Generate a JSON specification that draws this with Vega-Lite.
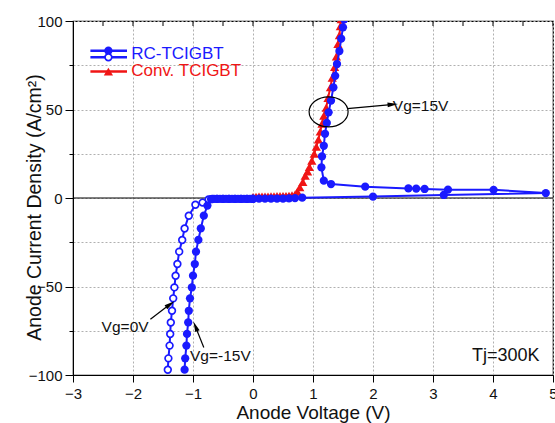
{
  "$schema": "https://vega.github.io/schema/vega-lite/v6.json",
  "width": 480,
  "height": 354,
  "autosize": {"type": "none"},
  "padding": {"left": 73, "top": 21, "right": 2, "bottom": 48},
  "background": "white",
  "config": {
    "font": "Liberation Sans",
    "view": {"stroke": "black", "strokeWidth": 1.2},
    "axis": {"labelFont": "Liberation Sans", "titleFont": "Liberation Sans", "labelColor": "#111", "titleColor": "#111", "domainColor": "black", "tickColor": "black", "titleFontWeight": "normal"}
  },
  "datasets": {
    "curves": [
      {"series": "conv", "ord": 1, "x": 0.0, "y": 0.6},
      {"series": "conv", "ord": 2, "x": 0.05, "y": 0.7},
      {"series": "conv", "ord": 3, "x": 0.1, "y": 0.8},
      {"series": "conv", "ord": 4, "x": 0.15, "y": 0.8},
      {"series": "conv", "ord": 5, "x": 0.2, "y": 0.9},
      {"series": "conv", "ord": 6, "x": 0.25, "y": 0.9},
      {"series": "conv", "ord": 7, "x": 0.3, "y": 1.0},
      {"series": "conv", "ord": 8, "x": 0.35, "y": 1.0},
      {"series": "conv", "ord": 9, "x": 0.4, "y": 1.1},
      {"series": "conv", "ord": 10, "x": 0.45, "y": 1.1},
      {"series": "conv", "ord": 11, "x": 0.5, "y": 1.2},
      {"series": "conv", "ord": 12, "x": 0.55, "y": 1.2},
      {"series": "conv", "ord": 13, "x": 0.6, "y": 1.3},
      {"series": "conv", "ord": 14, "x": 0.65, "y": 1.5},
      {"series": "conv", "ord": 15, "x": 0.7, "y": 2.0},
      {"series": "conv", "ord": 16, "x": 0.74, "y": 3.5},
      {"series": "conv", "ord": 17, "x": 0.78, "y": 6.0},
      {"series": "conv", "ord": 18, "x": 0.83, "y": 9.0},
      {"series": "conv", "ord": 19, "x": 0.87, "y": 12.5},
      {"series": "conv", "ord": 20, "x": 0.91, "y": 15.0},
      {"series": "conv", "ord": 21, "x": 0.94, "y": 17.5},
      {"series": "conv", "ord": 22, "x": 0.98, "y": 21.0},
      {"series": "conv", "ord": 23, "x": 1.02, "y": 25.0},
      {"series": "conv", "ord": 24, "x": 1.055, "y": 29.0},
      {"series": "conv", "ord": 25, "x": 1.09, "y": 33.0},
      {"series": "conv", "ord": 26, "x": 1.12, "y": 37.5},
      {"series": "conv", "ord": 27, "x": 1.15, "y": 42.0},
      {"series": "conv", "ord": 28, "x": 1.18, "y": 46.5},
      {"series": "conv", "ord": 29, "x": 1.22, "y": 51.0},
      {"series": "conv", "ord": 30, "x": 1.25, "y": 56.5},
      {"series": "conv", "ord": 31, "x": 1.29, "y": 62.5},
      {"series": "conv", "ord": 32, "x": 1.32, "y": 68.0},
      {"series": "conv", "ord": 33, "x": 1.36, "y": 74.0},
      {"series": "conv", "ord": 34, "x": 1.39, "y": 80.0},
      {"series": "conv", "ord": 35, "x": 1.415, "y": 87.0},
      {"series": "conv", "ord": 36, "x": 1.44, "y": 92.0},
      {"series": "conv", "ord": 37, "x": 1.455, "y": 97.0},
      {"series": "conv", "ord": 38, "x": 1.47, "y": 101.0},

      {"series": "fwd", "ord": 1, "x": 0.0, "y": -0.4},
      {"series": "fwd", "ord": 2, "x": 0.1, "y": -0.4},
      {"series": "fwd", "ord": 3, "x": 0.2, "y": -0.4},
      {"series": "fwd", "ord": 4, "x": 0.3, "y": -0.3},
      {"series": "fwd", "ord": 5, "x": 0.4, "y": -0.3},
      {"series": "fwd", "ord": 6, "x": 0.5, "y": -0.3},
      {"series": "fwd", "ord": 7, "x": 0.6, "y": -0.2},
      {"series": "fwd", "ord": 8, "x": 0.7, "y": -0.1},
      {"series": "fwd", "ord": 9, "x": 0.82, "y": 0.2},
      {"series": "fwd", "ord": 10, "x": 2.0, "y": 0.8},
      {"series": "fwd", "ord": 11, "x": 3.18, "y": 1.7},
      {"series": "fwd", "ord": 12, "x": 4.88, "y": 2.8},
      {"series": "fwd", "ord": 13, "x": 4.01, "y": 4.6},
      {"series": "fwd", "ord": 14, "x": 3.25, "y": 4.7},
      {"series": "fwd", "ord": 15, "x": 2.86, "y": 5.1},
      {"series": "fwd", "ord": 16, "x": 2.72, "y": 5.3},
      {"series": "fwd", "ord": 17, "x": 2.59, "y": 5.4},
      {"series": "fwd", "ord": 18, "x": 1.87, "y": 6.4},
      {"series": "fwd", "ord": 19, "x": 1.3, "y": 7.9},
      {"series": "fwd", "ord": 20, "x": 1.18, "y": 9.8},
      {"series": "fwd", "ord": 21, "x": 1.14, "y": 17.3},
      {"series": "fwd", "ord": 22, "x": 1.15, "y": 23.5},
      {"series": "fwd", "ord": 23, "x": 1.18, "y": 29.5},
      {"series": "fwd", "ord": 24, "x": 1.2, "y": 36.3},
      {"series": "fwd", "ord": 25, "x": 1.23, "y": 42.4},
      {"series": "fwd", "ord": 26, "x": 1.26, "y": 48.4},
      {"series": "fwd", "ord": 27, "x": 1.3, "y": 55.0},
      {"series": "fwd", "ord": 28, "x": 1.34, "y": 62.5},
      {"series": "fwd", "ord": 29, "x": 1.37, "y": 69.0},
      {"series": "fwd", "ord": 30, "x": 1.4, "y": 75.7},
      {"series": "fwd", "ord": 31, "x": 1.44, "y": 83.0},
      {"series": "fwd", "ord": 32, "x": 1.47, "y": 90.0},
      {"series": "fwd", "ord": 33, "x": 1.5, "y": 96.4},
      {"series": "fwd", "ord": 34, "x": 1.52, "y": 101.0},

      {"series": "rev0", "ord": 1, "x": 0.0, "y": -0.5},
      {"series": "rev0", "ord": 2, "x": -0.1, "y": -0.5},
      {"series": "rev0", "ord": 3, "x": -0.2, "y": -0.5},
      {"series": "rev0", "ord": 4, "x": -0.3, "y": -0.5},
      {"series": "rev0", "ord": 5, "x": -0.4, "y": -0.5},
      {"series": "rev0", "ord": 6, "x": -0.5, "y": -0.5},
      {"series": "rev0", "ord": 7, "x": -0.6, "y": -0.5},
      {"series": "rev0", "ord": 8, "x": -0.68, "y": -0.6},
      {"series": "rev0", "ord": 9, "x": -0.74, "y": -0.8},
      {"series": "rev0", "ord": 10, "x": -0.84, "y": -2.6},
      {"series": "rev0", "ord": 11, "x": -0.96, "y": -3.8},
      {"series": "rev0", "ord": 12, "x": -1.07, "y": -10.0},
      {"series": "rev0", "ord": 13, "x": -1.14, "y": -17.2},
      {"series": "rev0", "ord": 14, "x": -1.18, "y": -23.7},
      {"series": "rev0", "ord": 15, "x": -1.23, "y": -30.3},
      {"series": "rev0", "ord": 16, "x": -1.26, "y": -37.3},
      {"series": "rev0", "ord": 17, "x": -1.29, "y": -43.9},
      {"series": "rev0", "ord": 18, "x": -1.31, "y": -50.5},
      {"series": "rev0", "ord": 19, "x": -1.33, "y": -56.7},
      {"series": "rev0", "ord": 20, "x": -1.35, "y": -63.7},
      {"series": "rev0", "ord": 21, "x": -1.37, "y": -70.3},
      {"series": "rev0", "ord": 22, "x": -1.38, "y": -76.8},
      {"series": "rev0", "ord": 23, "x": -1.39, "y": -83.4},
      {"series": "rev0", "ord": 24, "x": -1.41, "y": -90.6},
      {"series": "rev0", "ord": 25, "x": -1.42, "y": -97.0},

      {"series": "rev15", "ord": 1, "x": 0.0, "y": -0.5},
      {"series": "rev15", "ord": 2, "x": -0.05, "y": -0.5},
      {"series": "rev15", "ord": 3, "x": -0.1, "y": -0.5},
      {"series": "rev15", "ord": 4, "x": -0.15, "y": -0.5},
      {"series": "rev15", "ord": 5, "x": -0.2, "y": -0.5},
      {"series": "rev15", "ord": 6, "x": -0.25, "y": -0.5},
      {"series": "rev15", "ord": 7, "x": -0.3, "y": -0.5},
      {"series": "rev15", "ord": 8, "x": -0.35, "y": -0.5},
      {"series": "rev15", "ord": 9, "x": -0.4, "y": -0.5},
      {"series": "rev15", "ord": 10, "x": -0.45, "y": -0.5},
      {"series": "rev15", "ord": 11, "x": -0.5, "y": -0.5},
      {"series": "rev15", "ord": 12, "x": -0.55, "y": -0.5},
      {"series": "rev15", "ord": 13, "x": -0.6, "y": -0.5},
      {"series": "rev15", "ord": 14, "x": -0.65, "y": -0.5},
      {"series": "rev15", "ord": 15, "x": -0.7, "y": -0.6},
      {"series": "rev15", "ord": 16, "x": -0.76, "y": -4.3},
      {"series": "rev15", "ord": 17, "x": -0.82, "y": -10.0},
      {"series": "rev15", "ord": 18, "x": -0.87, "y": -17.2},
      {"series": "rev15", "ord": 19, "x": -0.91, "y": -23.7},
      {"series": "rev15", "ord": 20, "x": -0.95, "y": -30.3},
      {"series": "rev15", "ord": 21, "x": -0.97, "y": -37.3},
      {"series": "rev15", "ord": 22, "x": -1.0, "y": -43.9},
      {"series": "rev15", "ord": 23, "x": -1.02, "y": -50.5},
      {"series": "rev15", "ord": 24, "x": -1.05, "y": -56.7},
      {"series": "rev15", "ord": 25, "x": -1.07, "y": -63.7},
      {"series": "rev15", "ord": 26, "x": -1.08, "y": -70.3},
      {"series": "rev15", "ord": 27, "x": -1.1, "y": -76.8},
      {"series": "rev15", "ord": 28, "x": -1.11, "y": -83.4},
      {"series": "rev15", "ord": 29, "x": -1.13, "y": -90.6},
      {"series": "rev15", "ord": 30, "x": -1.14, "y": -97.0}
    ],
    "legendLines": [
      {"item": "rc1", "x": -2.71, "x2": -2.1, "y": 83.2, "color": "blue"},
      {"item": "rc2", "x": -2.71, "x2": -2.1, "y": 79.5, "color": "blue"},
      {"item": "conv", "x": -2.71, "x2": -2.1, "y": 71.4, "color": "red"}
    ],
    "legendText": [
      {"label": "RC-TCIGBT", "x": -2.03, "y": 81.5, "color": "blue"},
      {"label": "Conv. TCIGBT", "x": -2.03, "y": 71.6, "color": "red"}
    ],
    "arrows": [
      {"name": "vg15", "x": 1.57, "y": 50.5, "x2": 2.3, "y2": 52.8},
      {"name": "vg0", "x": -1.71, "y": -68.5, "x2": -1.4, "y2": -60.5},
      {"name": "vgm15", "x": -0.82, "y": -84.5, "x2": -0.95, "y2": -73.5}
    ],
    "topTicks": [
      {"x": -3}, {"x": -2.5}, {"x": -2}, {"x": -1.5}, {"x": -1}, {"x": -0.5}, {"x": 0}, {"x": 0.5},
      {"x": 1}, {"x": 1.5}, {"x": 2}, {"x": 2.5}, {"x": 3}, {"x": 3.5}, {"x": 4}, {"x": 4.5}, {"x": 5}
    ]
  },
  "layer": [
    {
      "data": {"values": [{"z": 0}]},
      "mark": {"type": "rule", "color": "black", "strokeWidth": 1.2},
      "encoding": {
        "x": {"datum": 0, "type": "quantitative", "scale": {"domain": [-3, 5], "nice": false, "zero": false},
          "axis": {"values": [-3, -2.5, -2, -1.5, -1, -0.5, 0, 0.5, 1, 1.5, 2, 2.5, 3, 3.5, 4, 4.5, 5],
            "labelExpr": "datum.value % 1 === 0 ? datum.label : ''", "format": "d",
            "tickSize": {"condition": {"test": "datum.value % 1 === 0", "value": 7}, "value": 4},
            "labelFontSize": 15, "labelPadding": 4, "labelFlush": false, "labelOverlap": false,
            "grid": true, "gridDash": [2, 2], "gridColor": "#b0b0b0", "gridWidth": 1,
            "title": "Anode Voltage (V)", "titleFontSize": 19, "titlePadding": 2}},
        "y": {"datum": 0, "type": "quantitative", "scale": {"domain": [-100, 100], "nice": false},
          "axis": {"values": [-100, -75, -50, -25, 0, 25, 50, 75, 100],
            "labelExpr": "datum.value % 50 === 0 ? datum.label : ''",
            "tickSize": {"condition": {"test": "datum.value % 50 === 0", "value": 8}, "value": 4},
            "labelFontSize": 15, "labelPadding": 3, "labelOverlap": false,
            "grid": true, "gridDash": [2, 2], "gridColor": "#b0b0b0", "gridWidth": 1,
            "title": "Anode Current Density (A/cm²)", "titleFontSize": 19.5,
            "titleX": -29, "titleY": 186, "titleAngle": 270, "titleAlign": "center", "titleBaseline": "bottom"}}
      }
    },
    {
      "data": {"values": [{"z": 0}]},
      "mark": {"type": "rule", "color": "black", "strokeWidth": 1.2},
      "encoding": {"y": {"datum": 0, "type": "quantitative"}}
    },
    {
      "data": {"name": "topTicks"},
      "mark": {"type": "tick", "orient": "vertical", "color": "black", "size": 10, "thickness": 1, "clip": true, "opacity": 1},
      "encoding": {"x": {"field": "x", "type": "quantitative"}, "y": {"datum": 100, "type": "quantitative"}}
    },
    {
      "data": {"name": "curves"},
      "transform": [{"filter": "datum.series === 'rev0'"}],
      "mark": {"type": "line", "color": "#1a1aff", "strokeWidth": 2, "clip": true},
      "encoding": {"x": {"field": "x", "type": "quantitative"}, "y": {"field": "y", "type": "quantitative"}, "order": {"field": "ord"}}
    },
    {
      "data": {"name": "curves"},
      "transform": [{"filter": "datum.series === 'rev0'"}],
      "mark": {"type": "point", "shape": "circle", "filled": false, "fill": "white", "color": "#1a1aff", "strokeWidth": 1.7, "size": 45, "opacity": 1, "clip": true},
      "encoding": {"x": {"field": "x", "type": "quantitative"}, "y": {"field": "y", "type": "quantitative"}}
    },
    {
      "data": {"name": "curves"},
      "transform": [{"filter": "datum.series === 'conv'"}],
      "mark": {"type": "line", "color": "#f01515", "strokeWidth": 2, "clip": true},
      "encoding": {"x": {"field": "x", "type": "quantitative"}, "y": {"field": "y", "type": "quantitative"}, "order": {"field": "ord"}}
    },
    {
      "data": {"name": "curves"},
      "transform": [{"filter": "datum.series === 'conv'"}],
      "mark": {"type": "point", "shape": "triangle-up", "filled": true, "color": "#f01515", "size": 85, "opacity": 1, "clip": true},
      "encoding": {"x": {"field": "x", "type": "quantitative"}, "y": {"field": "y", "type": "quantitative"}}
    },
    {
      "data": {"name": "curves"},
      "transform": [{"filter": "datum.series === 'fwd' || datum.series === 'rev15'"}],
      "mark": {"type": "line", "color": "#1a1aff", "strokeWidth": 2, "clip": true},
      "encoding": {"x": {"field": "x", "type": "quantitative"}, "y": {"field": "y", "type": "quantitative"}, "detail": {"field": "series"}, "order": {"field": "ord"}}
    },
    {
      "data": {"name": "curves"},
      "transform": [{"filter": "datum.series === 'fwd' || datum.series === 'rev15'"}],
      "mark": {"type": "point", "shape": "circle", "filled": true, "color": "#1a1aff", "size": 68, "opacity": 1, "clip": true},
      "encoding": {"x": {"field": "x", "type": "quantitative"}, "y": {"field": "y", "type": "quantitative"}}
    },
    {
      "data": {"name": "legendLines"},
      "mark": {"type": "rule", "strokeWidth": 2.5},
      "encoding": {"x": {"field": "x", "type": "quantitative"}, "x2": {"field": "x2"}, "y": {"field": "y", "type": "quantitative"},
        "color": {"field": "color", "type": "nominal", "scale": {"domain": ["blue", "red"], "range": ["#1a1aff", "#f01515"]}, "legend": null}}
    },
    {
      "data": {"values": [{"x": -2.41, "y": 83.2}]},
      "mark": {"type": "point", "shape": "circle", "filled": true, "color": "#1a1aff", "size": 68, "opacity": 1},
      "encoding": {"x": {"field": "x", "type": "quantitative"}, "y": {"field": "y", "type": "quantitative"}}
    },
    {
      "data": {"values": [{"x": -2.41, "y": 79.5}]},
      "mark": {"type": "point", "shape": "circle", "filled": false, "fill": "white", "color": "#1a1aff", "strokeWidth": 1.7, "size": 45, "opacity": 1},
      "encoding": {"x": {"field": "x", "type": "quantitative"}, "y": {"field": "y", "type": "quantitative"}}
    },
    {
      "data": {"values": [{"x": -2.41, "y": 71.4}]},
      "mark": {"type": "point", "shape": "triangle-up", "filled": true, "color": "#f01515", "size": 85, "opacity": 1},
      "encoding": {"x": {"field": "x", "type": "quantitative"}, "y": {"field": "y", "type": "quantitative"}}
    },
    {
      "data": {"name": "legendText"},
      "mark": {"type": "text", "align": "left", "baseline": "middle", "fontSize": 17, "font": "Liberation Sans"},
      "encoding": {"x": {"field": "x", "type": "quantitative"}, "y": {"field": "y", "type": "quantitative"}, "text": {"field": "label"},
        "color": {"field": "color", "type": "nominal", "scale": {"domain": ["blue", "red"], "range": ["#1a1aff", "#f01515"]}, "legend": null}}
    },
    {
      "data": {"values": [{"x": 1.26, "y": 48.7}]},
      "mark": {"type": "point", "shape": "M-1,0 A1,0.77 0 1,0 1,0 A1,0.77 0 1,0 -1,0 Z", "filled": false, "color": "black", "strokeWidth": 1.2, "size": 1521, "opacity": 1},
      "encoding": {"x": {"field": "x", "type": "quantitative"}, "y": {"field": "y", "type": "quantitative"}}
    },
    {
      "data": {"name": "arrows"},
      "mark": {"type": "rule", "color": "black", "strokeWidth": 1.2},
      "encoding": {"x": {"field": "x", "type": "quantitative"}, "x2": {"field": "x2"}, "y": {"field": "y", "type": "quantitative"}, "y2": {"field": "y2"}}
    },
    {
      "data": {"values": [{"x": 2.33, "y": 52.9}]},
      "mark": {"type": "point", "shape": "M0,-1 L0.45,1 L-0.45,1 Z", "filled": true, "color": "black", "size": 110, "angle": 85, "opacity": 1},
      "encoding": {"x": {"field": "x", "type": "quantitative"}, "y": {"field": "y", "type": "quantitative"}}
    },
    {
      "data": {"values": [{"x": -1.38, "y": -60}]},
      "mark": {"type": "point", "shape": "M0,-1 L0.45,1 L-0.45,1 Z", "filled": true, "color": "black", "size": 110, "angle": 55, "opacity": 1},
      "encoding": {"x": {"field": "x", "type": "quantitative"}, "y": {"field": "y", "type": "quantitative"}}
    },
    {
      "data": {"values": [{"x": -0.96, "y": -72.5}]},
      "mark": {"type": "point", "shape": "M0,-1 L0.45,1 L-0.45,1 Z", "filled": true, "color": "black", "size": 110, "angle": 337, "opacity": 1},
      "encoding": {"x": {"field": "x", "type": "quantitative"}, "y": {"field": "y", "type": "quantitative"}}
    },
    {
      "data": {"values": [
        {"label": "Vg=15V", "x": 2.33, "y": 52.2, "size": "s"},
        {"label": "Vg=-15V", "x": -1.05, "y": -89.5, "size": "s"},
        {"label": "Tj=300K", "x": 3.65, "y": -89.5, "size": "l"}
      ]},
      "mark": {"type": "text", "align": "left", "baseline": "middle", "font": "Liberation Sans", "color": "#111"},
      "encoding": {"x": {"field": "x", "type": "quantitative"}, "y": {"field": "y", "type": "quantitative"}, "text": {"field": "label"},
        "size": {"field": "size", "type": "nominal", "scale": {"domain": ["s", "l"], "range": [15.5, 18]}, "legend": null}}
    },
    {
      "data": {"values": [{"label": "Vg=0V", "x": -1.74, "y": -72.7}]},
      "mark": {"type": "text", "align": "right", "baseline": "middle", "font": "Liberation Sans", "fontSize": 15.5, "color": "#111"},
      "encoding": {"x": {"field": "x", "type": "quantitative"}, "y": {"field": "y", "type": "quantitative"}, "text": {"field": "label"}}
    }
  ]
}
